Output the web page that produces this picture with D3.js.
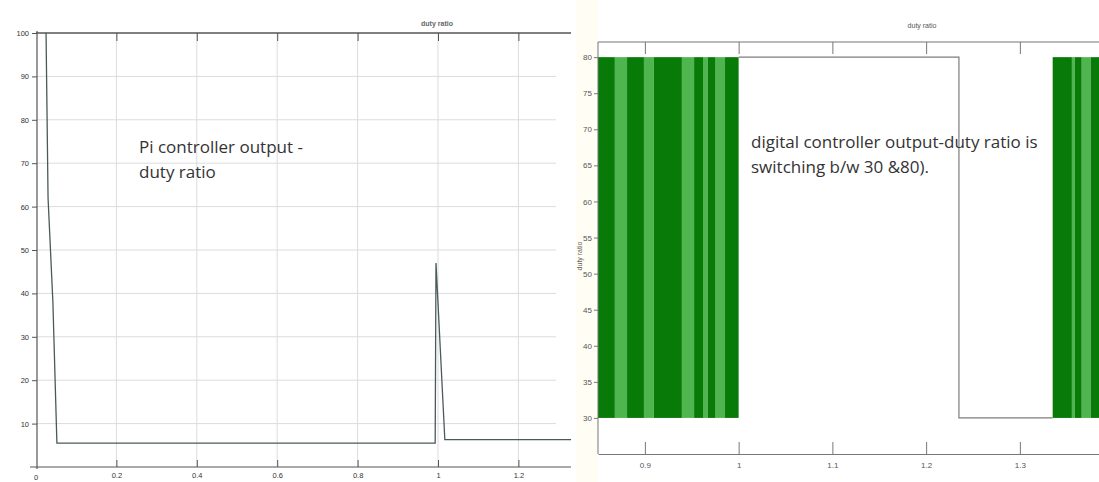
<!DOCTYPE html>
<html>
<head>
<meta charset="utf-8">
<script src="https://cdn.jsdelivr.net/npm/d3@7/dist/d3.min.js"></script>
<style>
  html, body { margin: 0; padding: 0; background: #fff; }
  svg { display: block; font-family: "Liberation Sans", Arial, sans-serif; }
</style>
</head>
<body>
<svg id="chart" width="1099" height="482"></svg>
<script>
// ---- PI controller output (left scope) ----
const piTime = [0.025, 0.030, 0.042, 0.052, 0.993, 0.995, 1.017, 1.331];
const piDuty = [100, 62, 38, 5.5, 5.5, 47, 6.3, 6.3];
const piYTicks = [10, 20, 30, 40, 50, 60, 70, 80, 90, 100];
const piXTicks = [0.2, 0.4, 0.6, 0.8, 1, 1.2];
const piXTickLabels = ["0.2", "0.4", "0.6", "0.8", "1", "1.2"];

// ---- digital controller output (right scope) ----
const dutyLow = 30;
const dutyHigh = 80;
// intervals where the duty ratio toggles between dutyLow and dutyHigh
const switchStart = [0.85, 0.868, 0.881, 0.899, 0.9095, 0.9395, 0.9525, 0.962, 0.967, 0.9755, 0.9855,
                     1.335, 1.3555, 1.3585, 1.366, 1.3755];
const switchEnd   = [0.868, 0.881, 0.899, 0.9095, 0.9395, 0.9525, 0.962, 0.967, 0.9755, 0.9855, 1.0,
                     1.3555, 1.3585, 1.366, 1.3755, 1.4];
const switchDense = [1, 0, 1, 0, 1, 0, 1, 0, 1, 0, 1,
                     1, 0, 1, 0, 1];
// steady part of the signal between the switching intervals
const stepTime = [1.0, 1.235, 1.235, 1.335];
const stepDuty = [80, 80, 30, 30];
const dYTicks = [30, 35, 40, 45, 50, 55, 60, 65, 70, 75, 80];
const dXTicks = [0.9, 1, 1.1, 1.2, 1.3];
const dXTickLabels = ["0.9", "1", "1.1", "1.2", "1.3"];

const svg = d3.select("#chart");
const axisColor = "#555";
const gridColor = "#dcdcdc";
const textColor = "#333";
const noteFont = "'Open Sans', 'Liberation Sans', Arial, sans-serif";

// ================= left scope =================
const L = { left: 36, right: 571, top: 33, bottom: 467 };
const xL = d3.scaleLinear().domain([0, (L.right - L.left) / 402]).range([L.left, L.right]);
const yL = d3.scaleLinear().domain([0, 100]).range([L.bottom, L.top]);

const gL = svg.append("g");
// grid
gL.selectAll("line.hgrid").data(piYTicks.slice(0, -1)).join("line")
  .attr("x1", L.left + 1).attr("x2", 556)
  .attr("y1", d => yL(d)).attr("y2", d => yL(d))
  .attr("stroke", gridColor).attr("stroke-width", 1);
gL.selectAll("line.vgrid").data(piXTicks).join("line")
  .attr("x1", d => xL(d)).attr("x2", d => xL(d))
  .attr("y1", L.top).attr("y2", L.bottom)
  .attr("stroke", gridColor).attr("stroke-width", 1);

// frame lines
gL.append("line").attr("x1", L.left).attr("x2", L.right).attr("y1", L.top).attr("y2", L.top)
  .attr("stroke", axisColor).attr("stroke-width", 1.4);
gL.append("line").attr("x1", L.left + 1).attr("x2", L.left + 1).attr("y1", L.top - 2).attr("y2", L.bottom + 2)
  .attr("stroke", axisColor).attr("stroke-width", 1.2);

// axes
const axL = d3.axisLeft(yL).tickValues(piYTicks).tickSize(5).tickPadding(3).tickFormat(d3.format("d"));
const gAxL = gL.append("g").attr("transform", `translate(${L.left + 1},0)`).call(axL);
const axB = d3.axisBottom(xL).tickValues(piXTicks).tickSizeInner(-7).tickSizeOuter(0).tickPadding(6)
  .tickFormat((d, i) => piXTickLabels[i]);
const gAxB = gL.append("g").attr("transform", `translate(0,${L.bottom})`).call(axB);
gAxB.select(".domain").attr("d", `M${L.left - 6},0H${L.right}`);
const axT = d3.axisTop(xL).tickValues(piXTicks).tickSizeInner(-8).tickSizeOuter(0).tickFormat("");
const gAxT = gL.append("g").attr("transform", `translate(0,${L.top})`).call(axT);
gAxT.select(".domain").remove();
[gAxL, gAxB, gAxT].forEach(g => {
  g.selectAll("path, line").attr("stroke", axisColor);
  g.selectAll("text").attr("fill", textColor).attr("font-size", 7.5);
});
gAxL.select(".domain").remove();
gL.append("text").attr("x", L.left).attr("y", L.bottom + 13).attr("text-anchor", "middle")
  .attr("font-size", 7.5).attr("fill", textColor).text("0");

// title
gL.append("text").attr("x", 437).attr("y", 26).attr("text-anchor", "middle")
  .attr("font-size", 7).attr("font-weight", "bold").attr("fill", "#666").text("duty ratio");

// curve
const piLine = d3.line().x(d => xL(d[0])).y(d => yL(d[1]));
gL.append("path").datum(piTime.map((t, i) => [t, piDuty[i]]))
  .attr("d", piLine).attr("fill", "none").attr("stroke", "#4a5a5a").attr("stroke-width", 1.3);

// annotation
gL.append("text").attr("x", 139).attr("y", 153).attr("font-size", 17).attr("fill", textColor)
  .attr("font-family", noteFont).text("Pi controller output -");
gL.append("text").attr("x", 139).attr("y", 178).attr("font-size", 17).attr("fill", textColor)
  .attr("font-family", noteFont).text("duty ratio");

// ================= right scope =================
const R = { left: 598, top: 42, bottom: 454 };
const xR = d3.scaleLinear().domain([0.85, 1.4]).range([R.left, R.left + 0.55 * 937.5]);
const yR = d3.scaleLinear().domain([25, 82.1]).range([R.bottom, R.top]);

const gR = svg.append("g");
gR.append("rect").attr("x", 576).attr("y", 0).attr("width", R.left - 576).attr("height", 482)
  .attr("fill", "#fffdf4");

// switching intervals
gR.selectAll("rect.sw").data(switchStart.map((s, i) => ({ s, e: switchEnd[i], dense: switchDense[i] })))
  .join("rect")
  .attr("x", d => xR(d.s)).attr("width", d => xR(d.e) - xR(d.s))
  .attr("y", yR(dutyHigh)).attr("height", yR(dutyLow) - yR(dutyHigh))
  .attr("fill", d => d.dense ? "#077a07" : "#4fb54f");

// steady line
const stepLine = d3.line().x(d => xR(d[0])).y(d => yR(d[1]));
gR.append("path").datum(stepTime.map((t, i) => [t, stepDuty[i]]))
  .attr("d", stepLine).attr("fill", "none").attr("stroke", "#7d7d7d").attr("stroke-width", 1.2);

// frame
gR.append("line").attr("x1", R.left).attr("x2", 1099).attr("y1", R.top).attr("y2", R.top)
  .attr("stroke", "#777").attr("stroke-width", 1.2);
const axRL = d3.axisLeft(yR).tickValues(dYTicks).tickSize(4).tickPadding(2).tickFormat(d3.format("d"));
const gRL = gR.append("g").attr("transform", `translate(${R.left},0)`).call(axRL);
gRL.select(".domain").attr("d", `M0,${R.top}V${R.bottom}`);
const axRB = d3.axisBottom(xR).tickValues(dXTicks).tickSizeInner(-12).tickSizeOuter(0).tickPadding(8)
  .tickFormat((d, i) => dXTickLabels[i]);
const gRB = gR.append("g").attr("transform", `translate(0,${R.bottom})`).call(axRB);
const axRT = d3.axisTop(xR).tickValues(dXTicks).tickSizeInner(-12).tickSizeOuter(0).tickFormat("");
const gRT = gR.append("g").attr("transform", `translate(0,${R.top})`).call(axRT);
gRT.select(".domain").remove();
[gRL, gRB, gRT].forEach(g => {
  g.selectAll("path, line").attr("stroke", "#777");
  g.selectAll("text").attr("fill", "#555").attr("font-size", 8);
});

// axis label and title
gR.append("text").attr("transform", "translate(582,256) rotate(-90)").attr("text-anchor", "middle")
  .attr("font-size", 7).attr("fill", "#666").text("duty ratio");
gR.append("text").attr("x", 922).attr("y", 28).attr("text-anchor", "middle")
  .attr("font-size", 7).attr("fill", "#555").text("duty ratio");

// annotation
gR.append("text").attr("x", 751).attr("y", 148).attr("font-size", 17).attr("fill", textColor)
  .attr("font-family", noteFont).text("digital controller output-duty ratio is");
gR.append("text").attr("x", 751).attr("y", 173).attr("font-size", 17).attr("fill", textColor)
  .attr("font-family", noteFont).text("switching b/w 30 &80).");
</script>
</body>
</html>
